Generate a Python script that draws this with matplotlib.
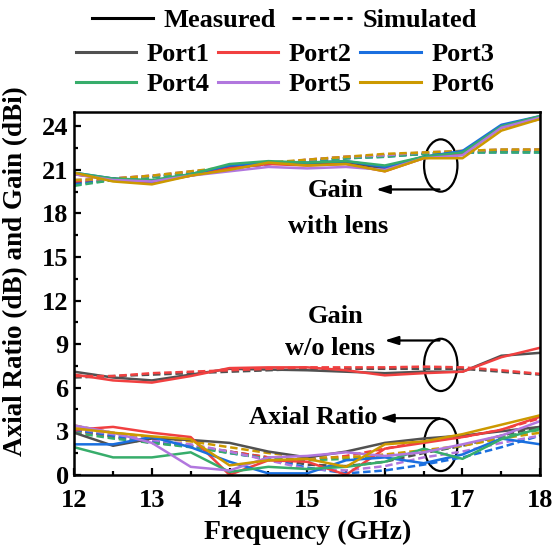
"""Axial ratio and gain vs frequency, six ports, measured vs simulated."""

import matplotlib
matplotlib.use("Agg")
import matplotlib.pyplot as plt
from matplotlib.lines import Line2D
from matplotlib.patches import Ellipse
from matplotlib.ticker import MultipleLocator

plt.rcParams["font.family"] = ["Liberation Serif", "DejaVu Serif"]
plt.rcParams["font.weight"] = "bold"

freq = [12, 12.5, 13, 13.5, 14, 14.5, 15, 15.5, 16, 16.5, 17, 17.5, 18]
ports = ["Port1", "Port2", "Port3", "Port4", "Port5", "Port6"]
colors = ["#515151", "#F14040", "#1A6FDF", "#37AD6B", "#B177DE", "#CC9900"]

# gain with lens, measured
gain_lens_meas = [
    [20.7, 20.4, 20.2, 20.6, 21.2, 21.5, 21.4, 21.5, 21.1, 21.9, 22.2, 24.0, 24.6],
    [20.7, 20.3, 20.1, 20.6, 21.1, 21.4, 21.3, 21.4, 20.9, 21.8, 22.1, 23.9, 24.5],
    [20.8, 20.4, 20.2, 20.7, 21.3, 21.5, 21.5, 21.6, 21.2, 21.9, 22.3, 24.1, 24.7],
    [20.8, 20.4, 20.3, 20.7, 21.4, 21.6, 21.5, 21.6, 21.3, 21.9, 22.2, 24.0, 24.7],
    [20.7, 20.3, 20.2, 20.6, 20.9, 21.2, 21.1, 21.2, 21.0, 21.8, 22.0, 23.9, 24.6],
    [20.8, 20.2, 20.0, 20.6, 21.0, 21.5, 21.3, 21.4, 20.9, 21.8, 21.8, 23.7, 24.5],
]
# gain with lens, simulated
gain_lens_sim = [
    [20.1, 20.3, 20.5, 20.8, 21.1, 21.4, 21.6, 21.8, 22.0, 22.1, 22.2, 22.3, 22.3],
    [20.2, 20.4, 20.6, 20.8, 21.1, 21.4, 21.7, 21.9, 22.0, 22.1, 22.3, 22.3, 22.4],
    [20.0, 20.3, 20.5, 20.8, 21.1, 21.4, 21.6, 21.8, 21.9, 22.1, 22.2, 22.2, 22.2],
    [19.9, 20.3, 20.5, 20.8, 21.1, 21.4, 21.6, 21.8, 21.9, 22.1, 22.2, 22.2, 22.2],
    [20.3, 20.4, 20.6, 20.9, 21.1, 21.4, 21.7, 21.9, 22.0, 22.2, 22.3, 22.4, 22.4],
    [20.3, 20.4, 20.6, 20.9, 21.2, 21.5, 21.7, 21.9, 22.1, 22.2, 22.3, 22.4, 22.4],
]

# gain without lens (Port1, Port2 only)
gain_nolens_meas = [
    [7.1, 6.7, 6.5, 6.9, 7.3, 7.25, 7.2, 7.1, 7.0, 7.1, 7.1, 8.2, 8.4],
    [6.9, 6.5, 6.35, 6.8, 7.35, 7.4, 7.4, 7.2, 6.85, 7.0, 7.1, 8.1, 8.75],
]
gain_nolens_sim = [
    [6.7, 6.8, 6.9, 7.0, 7.1, 7.2, 7.3, 7.3, 7.3, 7.3, 7.3, 7.1, 6.9],
    [6.8, 6.8, 7.0, 7.1, 7.2, 7.3, 7.4, 7.4, 7.4, 7.45, 7.4, 7.2, 6.95],
]

# axial ratio
ar_meas = [
    [2.9, 2.0, 2.5, 2.4, 2.2, 1.6, 1.2, 1.6, 2.2, 2.5, 2.7, 3.0, 3.3],
    [3.1, 3.3, 2.9, 2.6, 0.0, 1.0, 0.9, 0.0, 1.8, 2.2, 2.6, 3.1, 4.0],
    [2.1, 2.1, 2.6, 1.9, 0.9, 0.1, 0.1, 1.0, 1.2, 0.8, 1.4, 2.5, 2.1],
    [1.9, 1.2, 1.2, 1.55, 0.2, 0.55, 0.4, 0.55, 0.9, 1.8, 1.1, 2.45, 3.2],
    [3.4, 2.9, 2.2, 0.55, 0.3, 1.2, 1.3, 1.55, 1.3, 1.55, 2.1, 2.7, 3.7],
    [3.2, 2.9, 2.65, 2.45, 0.65, 1.0, 1.1, 0.55, 2.1, 2.3, 2.8, 3.45, 4.1],
]
ar_sim = [
    [3.1, 2.6, 2.2, 2.0, 1.6, 1.2, 0.7, 0.6, 0.9, 1.5, 2.0, 2.7, 3.3],
    [3.0, 2.7, 2.3, 2.0, 1.6, 1.2, 1.0, 1.3, 1.8, 2.3, 2.6, 3.1, 3.9],
    [3.1, 2.7, 2.3, 2.0, 1.5, 1.1, 0.5, 0.1, 0.3, 0.7, 1.2, 1.9, 2.7],
    [2.9, 2.5, 2.2, 1.9, 1.5, 1.1, 1.0, 1.1, 1.3, 1.6, 2.0, 2.6, 3.1],
    [3.2, 2.8, 2.4, 2.1, 1.6, 1.0, 0.4, 0.3, 0.6, 1.2, 1.6, 2.2, 2.7],
    [3.4, 2.9, 2.6, 2.3, 1.9, 1.5, 1.2, 1.2, 1.4, 1.7, 2.0, 2.5, 2.9],
]

fig = plt.figure(figsize=(5.54, 5.56), dpi=100)
ax = fig.add_axes([0.134, 0.146, 0.841, 0.653])

lw = 1.8
dash = (0, (3, 1.5))
for i in range(6):
    ax.plot(freq, ar_sim[i], color=colors[i], lw=lw, ls=dash)
for i in range(6):
    ax.plot(freq, ar_meas[i], color=colors[i], lw=lw)
for i in range(2):
    ax.plot(freq, gain_nolens_sim[i], color=colors[i], lw=lw, ls=dash)
    ax.plot(freq, gain_nolens_meas[i], color=colors[i], lw=lw)
for i in range(6):
    ax.plot(freq, gain_lens_sim[i], color=colors[i], lw=lw, ls=dash)
for i in range(6):
    ax.plot(freq, gain_lens_meas[i], color=colors[i], lw=lw)

ax.set_xlim(12, 18)
ax.set_ylim(0, 25)
ax.xaxis.set_major_locator(MultipleLocator(1))
ax.xaxis.set_minor_locator(MultipleLocator(0.5))
ax.yaxis.set_major_locator(MultipleLocator(3))
ax.yaxis.set_minor_locator(MultipleLocator(1.5))
ax.tick_params(which="both", direction="in", width=1.6, labelsize=19, top=False, right=False)
ax.tick_params(which="major", length=5)
ax.tick_params(which="minor", length=3)
ax.tick_params(axis="x", pad=10)
ax.tick_params(axis="y", pad=4)
for s in ax.spines.values():
    s.set_linewidth(1.8)
for lab in ax.get_xticklabels() + ax.get_yticklabels():
    lab.set_fontweight("bold")

ax.set_xlabel("Frequency (GHz)", fontsize=20, fontweight="bold", labelpad=6)
ax.set_ylabel("Axial Ratio (dB) and Gain (dBi)", fontsize=19.5, fontweight="bold")
ax.yaxis.set_label_coords(-0.1, 0.56)

# annotations: ellipses + arrows
ann_font = dict(fontsize=19, fontweight="bold", ha="center", va="center")
arrow = dict(arrowstyle="-|>,head_length=0.8,head_width=0.25", color="black", lw=1.6)
for cy in (21.3, 7.57, 2.06):
    ax.add_patch(Ellipse((16.72, cy), 0.43, 3.6, fill=False, ec="black", lw=1.6))

ax.annotate("", xy=(15.85, 19.65), xytext=(16.74, 19.65), arrowprops=arrow)
ax.text(15.37, 19.6, "Gain", **ann_font)
ax.text(15.4, 17.1, "with lens", **ann_font)

ax.annotate("", xy=(15.96, 9.25), xytext=(16.74, 9.25), arrowprops=arrow)
ax.text(15.37, 10.9, "Gain", **ann_font)
ax.text(15.3, 8.67, "w/o lens", **ann_font)

ax.annotate("", xy=(15.9, 3.9), xytext=(16.74, 3.9), arrowprops=arrow)
ax.text(15.08, 3.92, "Axial Ratio", **ann_font)

# legends above the axes
leg_prop = dict(family="Liberation Serif", weight="bold", size=19)
style_handles = [Line2D([], [], color="black", lw=2.2),
                 Line2D([], [], color="black", lw=2.2, ls=(0, (3, 1.5)))]
fig.legend(style_handles, ["Measured", "Simulated"], ncol=2, loc="center",
           bbox_to_anchor=(0.514, 0.964), frameon=False, handlelength=2.3,
           columnspacing=0.6, handletextpad=0.4, prop=leg_prop)
# matplotlib fills legend columns first, so reorder to get rows Port1-3, Port4-6
order = [0, 3, 1, 4, 2, 5]
port_handles = [Line2D([], [], color=colors[k], lw=2.2) for k in order]
fig.legend(port_handles, [ports[k] for k in order], ncol=3, loc="center",
           bbox_to_anchor=(0.514, 0.875), frameon=False, handlelength=2.3,
           columnspacing=0.3, handletextpad=0.4, labelspacing=0.25, prop=leg_prop)

fig.savefig("out.png", dpi=100)
